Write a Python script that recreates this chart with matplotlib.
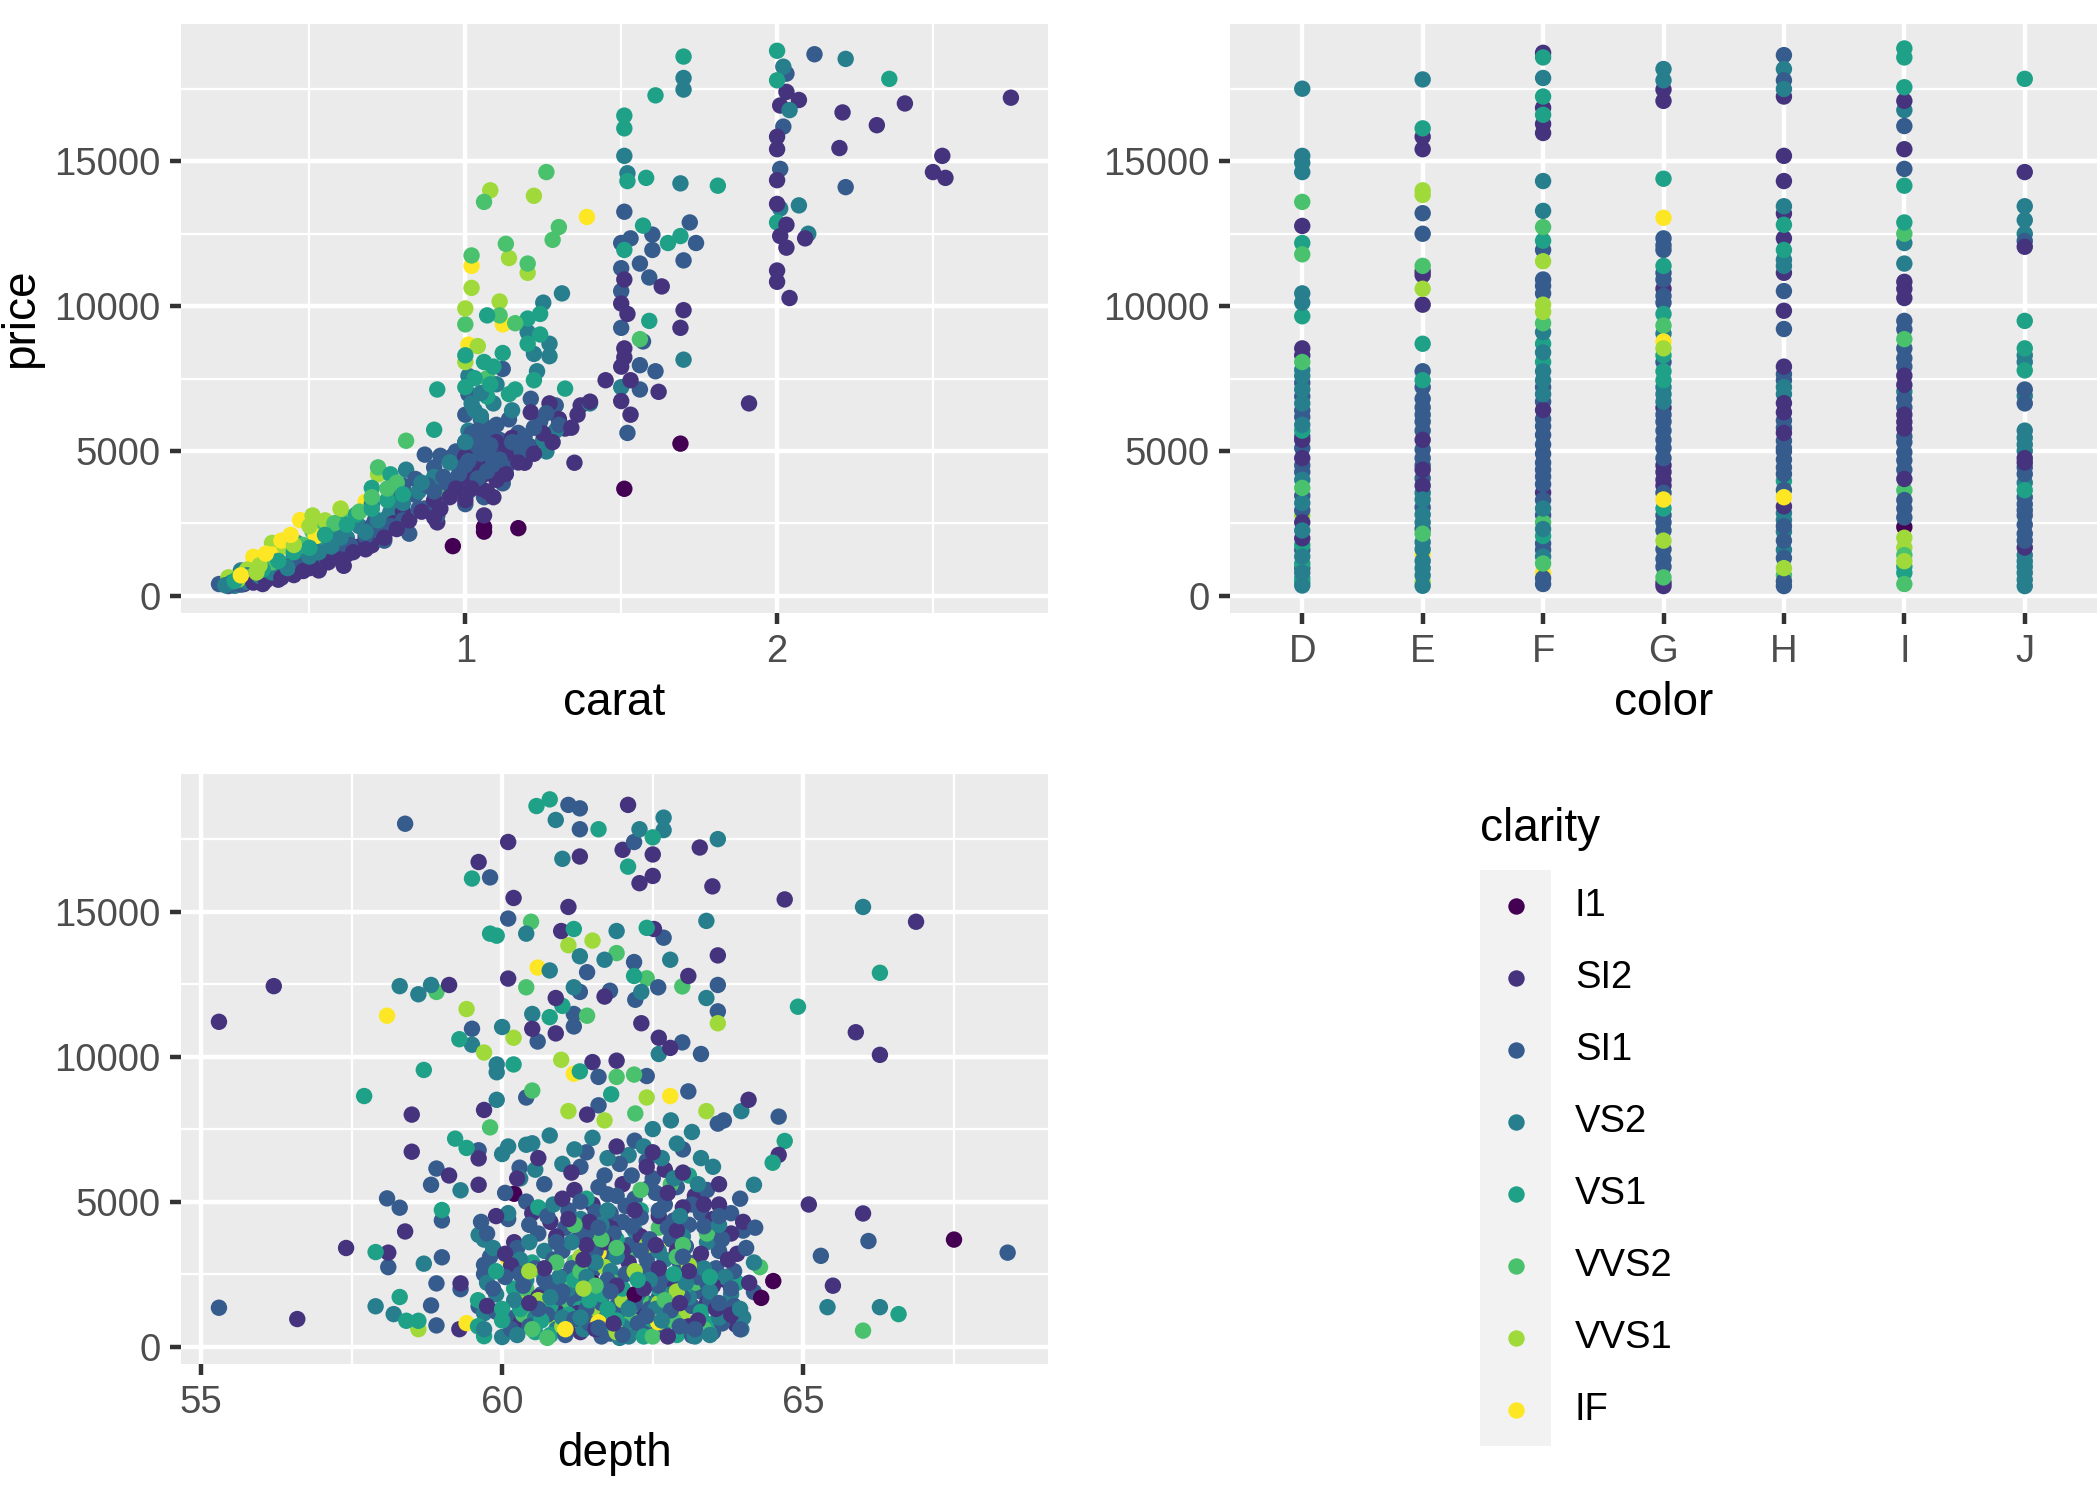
import matplotlib
matplotlib.use("Agg")
import matplotlib.pyplot as plt
from matplotlib.patches import Rectangle
from matplotlib.ticker import FixedLocator

plt.rcParams['font.family'] = ['Liberation Sans', 'DejaVu Sans']

# ---------------- categories / scales ----------------
clarity_levels = ["I1", "SI2", "SI1", "VS2", "VS1", "VVS2", "VVS1", "IF"]
clarity_colors = ["#440154", "#46337E", "#365C8D", "#277F8E",
                  "#1FA187", "#4AC16D", "#9FDA3A", "#FDE725"]
color_levels = ["D", "E", "F", "G", "H", "I", "J"]
price_ticks = [0, 5000, 10000, 15000]
price_minor = [2500, 7500, 12500, 17500]
carat_ticks = [1, 2]
carat_minor = [0.5, 1.5, 2.5]
depth_ticks = [55, 60, 65]
depth_minor = [57.5, 62.5, 67.5]

# ---------------- panel 1: carat vs price (carat, price) ----------------
carat_I1 = [(0.96, 1710), (1.06, 2370), (1.06, 2210), (1.17, 2330), (1.51, 3690), (1.69, 5250)]
carat_SI2 = [(2.03, 17400), (2.07, 17120), (2.01, 16930), (2.41, 17000), (2.75, 17200), (2.21, 16690),
             (2.32, 16250), (2.0, 15850), (2.0, 15420), (2.20, 15460), (2.53, 15190), (2.50, 14630),
             (2.54, 14430), (2.0, 14350), (2.0, 13530), (2.03, 12810), (2.01, 12420), (2.09, 12340),
             (2.03, 12020), (2.0, 11230), (2.0, 10840), (2.04, 10280), (1.91, 6640),
             (1.63, 10680), (1.51, 10920), (1.50, 10090), (1.52, 9730), (1.70, 9860), (1.69, 9250),
             (1.51, 8540), (1.51, 8230), (1.50, 7910), (1.45, 7440), (1.53, 7440), (1.62, 7040),
             (1.50, 6720), (1.53, 6250), (1.27, 6640), (1.37, 6570), (1.21, 6330), (1.36, 6250),
             (1.32, 5770), (1.21, 5140), (1.03, 4900), (1.19, 4590), (1.35, 4590), (1.05, 4590),
             (0.98, 4430), (1.01, 4270), (1.06, 4190), (1.0, 4030), (1.03, 3880), (1.0, 3560),
             (1.09, 3400), (1.06, 2770), (0.91, 2530), (0.70, 1740), (0.62, 1420), (0.54, 1190),
             (0.50, 1190), (0.50, 950), (0.29, 400), (0.35, 400), (0.40, 550), (0.45, 710),
             (0.53, 870), (0.61, 1030), (1.02, 4700), (1.04, 4400), (1.08, 4550), (1.12, 4800),
             (1.14, 5000), (1.0, 4800), (1.01, 3900), (1.05, 3700), (1.10, 5300), (1.15, 5450),
             (1.25, 5600), (1.30, 6100), (1.40, 6700), (0.90, 3300), (0.80, 2900), (0.72, 2300),
             (0.73, 2100), (0.77, 2500), (0.55, 1400), (0.31, 500), (0.33, 570), (0.38, 650),
             (0.42, 780), (0.47, 900), (0.52, 1100), (0.57, 1300), (0.66, 1700), (0.70, 1900),
             (0.71, 2050), (0.90, 2700),
             (0.32, 450), (0.36, 520), (0.41, 620), (0.44, 800), (0.48, 850), (0.51, 1000),
             (0.56, 1150), (0.60, 1250), (0.64, 1500), (0.68, 1600), (0.74, 2000), (0.78, 2300),
             (0.82, 2600), (0.86, 2900), (0.92, 3000), (0.95, 3400), (0.97, 3700), (1.0, 3300),
             (1.02, 3700), (1.07, 3600), (1.10, 4000), (1.13, 4200), (1.17, 4600), (1.22, 4900),
             (1.28, 5300), (1.34, 5800)]
carat_SI1 = [(2.12, 18700), (2.03, 18030), (2.02, 16200), (2.01, 14740), (2.22, 14110),
             (1.51, 13260), (1.72, 12890), (1.50, 12180), (1.53, 12340), (1.60, 12470), (1.74, 12180),
             (1.60, 11940), (1.70, 11580), (1.56, 11470), (1.50, 11310), (1.59, 10990), (1.50, 10520),
             (1.50, 9250), (1.57, 8780), (1.56, 7960), (1.61, 7750), (1.56, 7120), (1.52, 5620),
             (1.12, 7830), (1.01, 6960), (1.21, 6800), (1.29, 6570), (1.0, 6250), (1.05, 6090),
             (1.14, 6090), (1.24, 6010), (1.08, 5770), (1.17, 5620), (1.06, 5460), (1.11, 5380),
             (1.0, 5300), (0.97, 4980), (1.08, 4900), (1.16, 4750), (1.10, 4270), (1.12, 3880),
             (1.06, 3400), (1.0, 3160), (0.87, 4870), (0.92, 4830), (0.96, 4830), (0.90, 4430),
             (0.84, 4030), (0.95, 3640), (0.80, 3800), (0.78, 3400), (0.84, 3480), (0.87, 3010),
             (0.91, 2770), (0.79, 2770), (0.82, 2140), (0.74, 1900), (0.64, 2530), (0.56, 1500),
             (0.58, 1340), (0.21, 400), (0.24, 330), (1.02, 5000), (1.03, 5200), (1.06, 5100),
             (1.09, 4600), (1.13, 4400), (1.18, 5000), (1.20, 5200), (1.0, 4500), (1.04, 4050),
             (1.01, 3600), (0.93, 4100), (0.88, 3800), (0.71, 2600), (0.70, 2400), (0.60, 1800),
             (0.53, 1550), (0.50, 1450), (0.42, 1000), (0.36, 800), (0.30, 550), (0.27, 450),
             (1.02, 5600), (1.22, 5800), (1.26, 6300), (1.30, 5900),
             (0.28, 380), (0.32, 480), (0.35, 600), (0.40, 780), (0.44, 900), (0.47, 1100),
             (0.52, 1250), (0.55, 1350), (0.60, 1600), (0.63, 1750), (0.68, 2050), (0.72, 2250),
             (0.76, 2400), (0.80, 2600), (0.85, 3000), (0.90, 3600), (0.94, 3900), (0.98, 4200),
             (1.01, 4650), (1.05, 4900), (1.08, 5200), (1.15, 5300), (1.19, 5500), (1.07, 4300),
             (1.11, 4700), (1.04, 5700), (1.10, 5900)]
carat_VS2 = [(2.22, 18540), (2.02, 18270), (2.04, 16770), (2.01, 13370), (2.07, 13480), (2.10, 12500),
             (1.70, 17880), (1.70, 17480), (1.51, 15190), (1.52, 14590), (1.69, 14240), (1.70, 8150),
             (1.50, 7200), (1.31, 10440), (1.25, 10120), (1.20, 9100), (1.27, 8700), (1.22, 8350),
             (1.27, 8270), (1.23, 7750), (1.01, 7590), (1.02, 6640), (1.09, 6640), (1.40, 6640),
             (1.29, 5700), (1.01, 5700), (1.25, 5380), (1.26, 4980), (0.81, 4350), (0.70, 3160),
             (0.75, 2690), (0.70, 2140), (0.59, 2210), (0.51, 1740), (0.45, 1420), (0.37, 950),
             (0.28, 870), (0.26, 340), (0.42, 790), (1.05, 7000), (1.10, 7300), (1.15, 6400),
             (0.90, 4100), (0.85, 3600), (0.76, 2900), (0.66, 2400), (0.62, 2000), (0.55, 1650),
             (0.48, 1300), (0.40, 1050), (0.33, 600), (0.30, 700), (0.25, 450),
             (0.23, 360), (0.30, 480), (0.34, 680), (0.38, 800), (0.43, 950), (0.50, 1350),
             (0.53, 1500), (0.57, 1700), (0.60, 2000), (0.68, 2200), (0.72, 2600), (0.80, 3200),
             (0.86, 3900), (0.95, 4600), (1.0, 5300), (1.05, 6200), (1.03, 6400)]
carat_VS1 = [(2.0, 18820), (2.0, 17800), (2.36, 17850), (2.0, 12890), (1.70, 18620), (1.61, 17280),
             (1.51, 16580), (1.51, 16140), (1.52, 14320), (1.58, 14430), (1.81, 14160), (1.57, 12780),
             (1.69, 12420), (1.65, 12180), (1.51, 11940), (1.59, 9490), (1.07, 9680), (1.24, 9730),
             (1.20, 9570), (1.24, 9020), (1.20, 8700), (1.12, 8380), (1.06, 8070), (1.09, 7910),
             (1.03, 7510), (1.22, 7440), (1.32, 7150), (1.16, 7120), (1.14, 6960), (1.07, 6880),
             (0.91, 7120), (0.90, 5730), (0.76, 4190), (0.90, 3960), (0.70, 3720), (0.59, 2530),
             (0.46, 1820), (0.41, 1110), (0.33, 710), (0.29, 790), (0.36, 1110), (0.65, 2800),
             (0.60, 2300), (0.52, 1900), (0.38, 1000), (0.31, 620), (1.0, 8300),
             (0.26, 500), (0.35, 900), (0.40, 1200), (0.45, 1500), (0.50, 1650), (0.55, 2100),
             (0.62, 2450), (0.70, 3000), (0.75, 3300), (0.80, 3500), (1.0, 7200), (1.08, 7300)]
carat_VVS2 = [(1.26, 14630), (1.06, 13600), (1.30, 12730), (1.28, 12290), (1.02, 11750), (1.13, 12150),
              (1.20, 11470), (1.11, 9680), (1.0, 9370), (1.16, 9410), (1.07, 7510), (1.56, 8860),
              (0.81, 5350), (0.72, 4430), (0.91, 3560), (0.55, 2450), (0.51, 2210), (0.63, 2700),
              (0.45, 1600), (0.35, 1000), (0.27, 600), (0.78, 3900),
              (0.31, 650), (0.38, 1150), (0.48, 1750), (0.58, 2500), (0.66, 2900), (0.70, 3400),
              (0.75, 3700)]
carat_VVS1 = [(1.08, 14000), (1.22, 13810), (1.14, 11660), (1.20, 11150), (1.02, 10630), (1.11, 10160),
              (1.0, 9920), (1.04, 8620), (1.0, 8070), (0.72, 4190), (0.51, 2770), (0.38, 1820),
              (0.24, 630), (0.60, 3000), (0.42, 1700), (0.30, 900), (0.55, 2600),
              (0.27, 550), (0.34, 1050), (0.45, 1750), (0.50, 2400), (0.33, 800)]
carat_IF = [(1.39, 13080), (1.02, 11390), (1.12, 9370), (1.01, 8670), (0.76, 3400), (0.68, 3240),
            (0.60, 3010), (0.47, 2610), (0.39, 1580), (0.38, 1420), (0.32, 1340), (0.31, 950),
            (0.41, 1900), (0.35, 1250), (0.52, 2050), (0.28, 700), (0.36, 1450), (0.44, 2100)]

# ---------------- panel 2: color vs price (price, clarity) ----------------
color_D = [(17510, 'VS2'), (15190, 'VS2'), (14950, 'VS2'), (14630, 'VS2'), (13600, 'VVS2'), (12770, 'SI2'),
           (12180, 'VS1'), (11790, 'VVS2'), (10440, 'VS2'), (10120, 'VS2'), (9650, 'VS1'), (8540, 'SI2'),
           (8300, 'SI2'), (8070, 'VVS2'), (7800, 'VS2'), (7590, 'VS2'), (7350, 'SI1'), (7120, 'VS2'),
           (6880, 'SI1'), (6640, 'VS2'), (6400, 'SI1'), (6170, 'SI1'), (5900, 'VS2'), (5700, 'VS1'),
           (5500, 'SI1'), (5380, 'SI2'), (5100, 'SI1'), (4750, 'SI2'), (4500, 'SI1'), (4270, 'SI1'),
           (4000, 'VS2'), (3720, 'VVS2'), (3450, 'SI1'), (3200, 'VS2'), (2950, 'SI1'), (2770, 'VVS1'),
           (2530, 'SI2'), (2250, 'VS2'), (1980, 'SI2'), (1750, 'VS1'), (1580, 'SI1'), (1350, 'VS2'),
           (1110, 'VS1'), (950, 'SI1'), (790, 'VS2'), (600, 'VS1'), (470, 'VS1'), (350, 'VS2')]
color_E = [(17830, 'VS2'), (16140, 'VS1'), (15850, 'SI2'), (15420, 'SI2'), (14000, 'VVS1'), (13840, 'VVS1'),
           (13210, 'SI1'), (12500, 'SI1'), (11390, 'VVS2'), (11200, 'SI2'), (11070, 'SI2'), (10600, 'VVS1'),
           (10050, 'SI2'), (8700, 'VS1'), (7750, 'SI1'), (7440, 'VS1'), (7200, 'SI1'), (6800, 'SI1'),
           (6500, 'SI1'), (6250, 'SI1'), (6010, 'SI1'), (5700, 'SI1'), (5380, 'SI2'), (5050, 'SI1'),
           (4750, 'SI1'), (4500, 'SI1'), (4350, 'SI2'), (4050, 'SI1'), (3800, 'SI2'), (3550, 'VS2'),
           (3320, 'VS2'), (3050, 'SI1'), (2800, 'VS2'), (2530, 'VS2'), (2300, 'SI1'), (2140, 'VVS2'),
           (1850, 'VS2'), (1600, 'VS2'), (1420, 'IF'), (1200, 'VS2'), (950, 'VS2'), (700, 'VS2'),
           (470, 'VVS1'), (340, 'VS2')]
color_F = [(18750, 'SI2'), (18590, 'VS1'), (17880, 'VS2'), (17240, 'VS1'), (16850, 'SI2'), (16610, 'VS1'),
           (16290, 'SI2'), (15980, 'SI2'), (14320, 'VS2'), (13290, 'VS2'), (12730, 'VVS2'), (12260, 'VS1'),
           (11940, 'SI1'), (11550, 'VVS1'), (10920, 'SI1'), (10700, 'SI1'), (10440, 'SI1'), (10050, 'VVS1'),
           (9800, 'VVS1'), (9410, 'VVS2'), (9100, 'VS2'), (8700, 'VS1'), (8400, 'VS2'), (8070, 'VS1'),
           (7750, 'VS2'), (7440, 'VS2'), (7200, 'SI1'), (6960, 'VS2'), (6700, 'SI1'), (6410, 'SI2'),
           (6100, 'SI1'), (5850, 'SI1'), (5550, 'SI1'), (5220, 'SI1'), (4900, 'SI1'), (4590, 'SI1'),
           (4350, 'SI1'), (4110, 'SI1'), (3850, 'SI1'), (3560, 'SI2'), (3300, 'SI1'), (3010, 'VS2'),
           (2780, 'SI1'), (2530, 'VVS2'), (2300, 'VS2'), (2060, 'VS1'), (1800, 'SI1'), (1580, 'SI1'),
           (1350, 'VS2'), (1110, 'VVS2'), (790, 'IF'), (600, 'SI1'), (400, 'SI1')]
color_G = [(18190, 'VS2'), (17800, 'VS2'), (17480, 'SI2'), (17090, 'SI2'), (14400, 'VS1'), (13050, 'IF'),
           (12340, 'SI1'), (12100, 'SI1'), (11940, 'SI1'), (11390, 'VS1'), (11150, 'SI1'), (10920, 'SI1'),
           (10600, 'SI2'), (10350, 'SI1'), (10120, 'SI1'), (9730, 'VS1'), (9330, 'VVS2'), (9050, 'VS2'),
           (8780, 'IF'), (8540, 'VVS1'), (8300, 'VS1'), (8070, 'SI1'), (7750, 'VS1'), (7440, 'VS1'),
           (7200, 'VS2'), (6960, 'VS2'), (6700, 'VS2'), (6490, 'SI2'), (6250, 'SI1'), (6010, 'SI1'),
           (5700, 'SI1'), (5380, 'SI1'), (5100, 'SI1'), (4750, 'SI1'), (4500, 'SI2'), (4270, 'SI2'),
           (4000, 'SI2'), (3800, 'SI2'), (3550, 'SI1'), (3320, 'IF'), (3010, 'VS1'), (2780, 'SI1'),
           (2530, 'SI1'), (2250, 'SI1'), (1900, 'VVS1'), (1600, 'SI1'), (1270, 'SI1'), (1000, 'SI1'),
           (630, 'VVS2'), (450, 'SI2'), (330, 'SI2')]
color_H = [(18670, 'SI1'), (18190, 'VS2'), (17800, 'SI1'), (17500, 'VS2'), (17240, 'SI2'), (15190, 'SI2'),
           (14320, 'SI2'), (13450, 'VS2'), (13200, 'SI2'), (12810, 'VS1'), (12340, 'SI2'), (11940, 'VS1'),
           (11600, 'VS2'), (11390, 'VS2'), (11150, 'SI2'), (10520, 'SI1'), (9840, 'SI2'), (9210, 'SI1'),
           (7910, 'SI2'), (7650, 'SI1'), (7440, 'SI1'), (7200, 'VS2'), (6960, 'VS2'), (6650, 'SI2'),
           (6330, 'SI2'), (6050, 'SI1'), (5800, 'SI1'), (5620, 'SI2'), (5350, 'SI1'), (5100, 'SI1'),
           (4980, 'SI1'), (4700, 'SI1'), (4430, 'SI1'), (4200, 'SI1'), (3960, 'VS1'), (3650, 'SI1'),
           (3400, 'IF'), (3080, 'SI2'), (2850, 'VS2'), (2610, 'VS2'), (2400, 'SI1'), (2210, 'VS2'),
           (1900, 'SI1'), (1580, 'VS2'), (1300, 'SI1'), (950, 'VVS1'), (710, 'VVS2'), (500, 'SI1'),
           (330, 'SI1')]
color_I = [(18900, 'VS1'), (18590, 'VS1'), (17560, 'VS1'), (17090, 'SI2'), (16770, 'VS2'), (16220, 'SI1'),
           (15420, 'SI2'), (14740, 'SI1'), (14160, 'VS1'), (12890, 'VS1'), (12500, 'VVS2'), (12180, 'VS2'),
           (11470, 'VS2'), (10840, 'SI2'), (10600, 'SI2'), (10280, 'SI2'), (9490, 'SI1'), (9200, 'SI1'),
           (8860, 'VVS2'), (8540, 'SI1'), (8200, 'SI1'), (7910, 'SI1'), (7600, 'SI2'), (7280, 'SI2'),
           (7050, 'VS2'), (6800, 'SI1'), (6500, 'SI1'), (6250, 'SI2'), (6000, 'SI2'), (5770, 'SI2'),
           (5500, 'SI1'), (5300, 'SI1'), (4950, 'SI1'), (4670, 'SI1'), (4350, 'SI1'), (4030, 'SI2'),
           (3640, 'VVS2'), (3300, 'SI1'), (3010, 'SI1'), (2700, 'SI1'), (2370, 'I1'), (2000, 'VVS1'),
           (1660, 'VVS1'), (1400, 'VVS2'), (1190, 'VVS1'), (1000, 'VS1'), (790, 'VS1'), (400, 'VVS2')]
color_J = [(17850, 'VS1'), (14630, 'SI2'), (13450, 'VS2'), (12970, 'VS2'), (12500, 'VS2'), (12250, 'SI1'),
           (12050, 'SI2'), (9490, 'VS1'), (8540, 'VS1'), (8300, 'VS2'), (8070, 'VS2'), (7780, 'VS1'),
           (7120, 'SI1'), (6900, 'VS2'), (6640, 'SI1'), (5700, 'VS2'), (5450, 'VS2'), (5220, 'VS2'),
           (5000, 'VS2'), (4750, 'SI2'), (4600, 'SI2'), (4430, 'SI1'), (4200, 'SI1'), (3900, 'VS2'),
           (3640, 'VS1'), (3400, 'SI1'), (3160, 'SI1'), (2950, 'SI1'), (2770, 'SI1'), (2450, 'SI1'),
           (2140, 'SI1'), (1900, 'SI1'), (1660, 'SI2'), (1400, 'VS2'), (1190, 'VS2'), (1000, 'VS2'),
           (790, 'VS2'), (550, 'VS2'), (330, 'VS2')]

# ---------------- panel 3: depth vs price (depth, price) ----------------
depth_I1 = [(60.2, 5270), (64.5, 2260), (64.3, 1680), (67.5, 3690), (61.5, 2200), (62.2, 1800)]
depth_SI2 = [(62.09, 18680), (62.0, 17130), (62.5, 16970), (62.5, 16230), (62.28, 15980), (63.28, 17210),
             (63.49, 15870), (64.69, 15420), (66.87, 14650), (65.87, 10840), (66.27, 10060), (60.1, 17400),
             (59.61, 16710), (61.29, 16900), (60.19, 15470), (61.1, 15160), (60.98, 14330), (62.52, 14400),
             (63.58, 13490), (63.09, 12780), (56.21, 12430), (55.3, 11200), (59.12, 12470), (60.1, 12690),
             (60.89, 12020), (61.7, 12070), (62.31, 11150), (60.5, 10960), (60.89, 10800), (61.5, 9810),
             (61.9, 9860), (62.6, 10650), (62.79, 10300), (58.5, 8000), (58.5, 6720), (59.7, 8160),
             (61.41, 8000), (64.09, 8510), (64.59, 6610), (59.61, 6490), (59.12, 5900), (59.61, 5580),
             (58.39, 3970), (57.41, 3400), (58.11, 3240), (59.29, 600), (56.6, 950), (59.31, 2180),
             (65.09, 4900), (65.99, 4590), (65.49, 2100), (63.88, 760),
             (60.5, 4600), (60.8, 4300), (61.2, 5400), (61.5, 4900), (61.8, 4100), (62.0, 5600),
             (62.3, 3800), (62.6, 4500), (62.9, 3300), (63.2, 5200), (63.5, 4400), (63.8, 3900),
             (61.0, 2400), (61.6, 1800), (62.2, 1200), (62.8, 2100), (63.4, 1500), (60.3, 800),
             (61.3, 500), (62.5, 400), (63.1, 700), (63.7, 2300), (60.6, 6500), (61.9, 6900),
             (62.7, 6100), (60.2, 3600), (61.4, 3500), (63.0, 4800), (62.1, 2900), (63.6, 4900),
             (64.0, 4300), (60.9, 1200),
             (61.45, 4300), (62.2, 4700), (62.9, 4000), (63.3, 3200), (61.7, 3600), (60.9, 3800),
             (62.55, 3500), (63.9, 3200), (61.0, 5100), (62.0, 3300), (62.75, 5300), (63.5, 2100),
             (60.6, 1700), (61.25, 1150), (61.9, 2100), (62.6, 2700), (63.25, 900), (63.8, 1100),
             (60.15, 2800), (61.55, 600), (62.75, 350), (60.25, 5800), (61.15, 6000), (62.4, 6200),
             (63.0, 6000), (63.6, 5600), (64.1, 2200), (59.75, 1400), (60.05, 3200), (59.9, 4500),
             (60.7, 2700), (61.35, 3000), (62.35, 2000), (63.1, 2600), (63.55, 1300), (60.45, 1500),
             (61.85, 800), (62.95, 1500), (63.75, 3000), (61.1, 4400), (62.5, 6700), (63.35, 4900)]
depth_SI1 = [(61.1, 18680), (61.29, 18560), (61.29, 17840), (62.19, 17400), (58.39, 18030), (59.8, 16180),
             (60.1, 14760), (62.68, 14100), (62.19, 13260), (61.41, 12910), (61.29, 12230), (61.79, 12270),
             (62.21, 11960), (62.59, 12390), (63.58, 12470), (63.58, 11560), (61.19, 11470), (59.5, 10960),
             (60.59, 10520), (61.19, 11040), (61.6, 9300), (62.4, 9330), (62.99, 10490), (63.3, 10090),
             (60.4, 8590), (61.6, 8320), (63.09, 8800), (63.58, 7690), (63.68, 7800), (64.59, 7930),
             (59.61, 6770), (60.29, 6170), (58.91, 6140), (58.82, 5580), (58.09, 5110), (58.3, 4790),
             (58.11, 2740), (59.0, 4350), (59.0, 3080), (58.91, 2180), (58.82, 1420), (58.91, 730),
             (55.3, 1340), (59.31, 1980), (59.61, 1390), (59.7, 2820), (66.08, 3640), (68.39, 3240),
             (65.29, 3130), (64.18, 1880),
             (60.4, 5000), (60.7, 5600), (61.1, 4700), (61.3, 6200), (61.6, 5500), (61.8, 4600),
             (62.0, 4300), (62.2, 5100), (62.4, 6400), (62.5, 5800), (62.7, 4900), (62.9, 5500),
             (63.1, 4200), (63.3, 4600), (63.5, 3900), (63.8, 4600), (64.0, 4000), (60.6, 3900),
             (61.0, 3300), (61.4, 3900), (61.7, 3100), (62.1, 3500), (62.4, 3000), (62.8, 3700),
             (63.2, 2900), (63.6, 3300), (60.8, 2200), (61.2, 1600), (61.5, 2600), (61.9, 1400),
             (62.3, 2200), (62.6, 1700), (63.0, 2500), (63.3, 1900), (63.7, 1200), (60.5, 1500),
             (60.2, 1000), (61.1, 700), (61.8, 450), (62.6, 600), (63.5, 500), (62.9, 1100),
             (61.4, 6700), (62.2, 7100), (63.0, 6800), (61.7, 5900), (60.1, 4400), (59.8, 3100),
             (59.7, 2500),
             (61.3, 5000), (61.55, 4650), (61.75, 5250), (62.05, 4850), (62.3, 4450), (62.55, 5300),
             (62.85, 4350), (63.15, 4900), (63.4, 5400), (62.15, 5900), (62.45, 5500), (61.95, 6300),
             (61.25, 3700), (61.55, 3300), (61.85, 3900), (62.15, 4150), (62.45, 3700), (62.75, 4100),
             (63.05, 3450), (63.35, 4150), (63.65, 3700), (61.05, 4100), (60.75, 4500), (60.45, 4200),
             (60.25, 3400), (60.55, 2700), (60.85, 3000), (61.15, 2700), (61.45, 2200), (61.75, 2300),
             (62.05, 2500), (62.35, 2600), (62.65, 2400), (62.95, 2900), (63.25, 2400), (63.55, 2700),
             (63.85, 2600), (60.35, 2100), (60.65, 1800), (60.95, 1700), (61.35, 1900), (61.65, 1500),
             (62.05, 1100), (62.45, 1300), (62.85, 1500), (63.15, 1400), (63.45, 1600), (63.85, 1400),
             (60.45, 700), (60.75, 1100), (61.45, 800), (62.25, 800), (62.95, 700), (63.65, 800),
             (61.05, 400), (61.65, 350), (62.35, 450), (63.15, 380), (63.95, 600), (59.9, 1200),
             (59.75, 3900), (60.05, 5300), (64.05, 3400), (63.95, 5100), (64.2, 4100),
             (59.65, 4300), (59.85, 2000), (60.05, 2400), (60.15, 600),
             (60.3, 2500), (60.7, 2300), (61.0, 1900), (61.4, 1300), (61.8, 1900), (62.2, 1500),
             (62.6, 2100), (63.0, 1700), (63.4, 2200), (63.8, 2000), (60.6, 1300), (61.2, 950),
             (61.6, 650), (62.0, 400), (62.4, 1050), (62.8, 1250), (63.2, 600), (63.6, 1500),
             (60.9, 3600), (61.6, 4100), (62.3, 3300), (63.0, 3100), (63.6, 4500), (61.9, 5200),
             (62.6, 4700)]
depth_VS2 = [(60.89, 18160), (62.68, 18240), (62.68, 17810), (62.28, 17840), (63.58, 17500), (61.0, 16820),
             (65.99, 15160), (60.4, 14240), (61.9, 14330), (63.39, 14680), (61.7, 13340), (61.29, 13460),
             (62.79, 13340), (60.79, 12970), (58.3, 12430), (58.61, 12150), (58.82, 12470), (61.19, 12390),
             (62.31, 12230), (63.39, 12020), (60.0, 11020), (60.5, 11470), (59.5, 10410), (62.6, 10090),
             (59.91, 9730), (59.91, 9460), (59.91, 8510), (63.97, 8120), (64.18, 5580), (60.0, 6640),
             (60.1, 6900), (60.4, 6960), (60.79, 7280), (60.5, 7010), (59.31, 5390), (58.7, 2860),
             (57.9, 1390), (58.2, 1120), (59.7, 3690), (59.61, 3850), (59.7, 1150), (65.4, 1360),
             (66.27, 1360), (64.18, 2900), (63.97, 600),
             (60.3, 5800), (61.0, 6300), (61.5, 7200), (62.1, 6600), (62.5, 7500), (62.8, 7800),
             (63.3, 6500), (62.2, 4000), (61.3, 4400), (60.7, 3300), (62.7, 3000), (63.4, 3600),
             (61.1, 2000), (61.8, 2600), (62.4, 1500), (63.0, 1300), (63.8, 1800), (60.4, 2300),
             (60.9, 600), (61.6, 1000), (62.1, 350), (62.7, 800), (63.3, 1000), (64.0, 1000),
             (59.9, 1800), (60.0, 330),
             (60.55, 6100), (61.2, 6800), (61.75, 6500), (62.35, 6900), (62.9, 7000), (63.15, 7400),
             (62.65, 6500), (62.85, 5800), (63.5, 6200), (61.65, 4200), (62.6, 3300), (63.0, 3800),
             (63.6, 4200), (60.85, 4900), (61.15, 3600), (60.3, 3000), (60.95, 2400), (61.55, 2900),
             (62.25, 1800), (62.8, 1800), (63.35, 2700), (63.7, 2400), (60.55, 1000), (61.35, 600),
             (62.0, 700), (62.55, 1300), (63.1, 1700), (63.6, 1000), (63.95, 1300), (59.75, 2200),
             (60.2, 1600), (61.0, 1000), (61.95, 300), (63.2, 350), (59.85, 3400), (60.1, 4600),
             (59.7, 600),
             (60.45, 3600), (61.4, 2400), (61.9, 3100), (62.45, 2300), (63.05, 2200), (63.45, 1900),
             (60.8, 1700), (61.3, 1000), (62.1, 1300), (62.65, 900), (63.45, 400), (60.25, 400),
             (61.75, 4700), (62.95, 4500), (63.25, 5600)]
depth_VS1 = [(60.57, 18640), (60.79, 18870), (61.6, 17840), (62.5, 17560), (62.09, 16550), (59.5, 16140),
             (66.27, 12890), (64.91, 11720), (59.8, 14240), (59.91, 14170), (61.19, 14400), (62.4, 14440),
             (62.19, 12780), (61.0, 11750), (60.79, 11360), (59.29, 10600), (60.19, 9730), (61.29, 9490),
             (58.7, 9540), (57.71, 8640), (61.81, 8700), (64.69, 7090), (64.49, 6340), (59.22, 7170),
             (59.41, 6850), (59.0, 4710), (57.9, 3260), (58.3, 1710), (58.41, 890), (58.61, 890),
             (59.7, 360), (66.58, 1120),
             (60.6, 4800), (61.4, 5100), (62.3, 4700), (63.1, 5900), (61.9, 3700), (60.5, 2900),
             (62.0, 2000), (62.9, 1700), (61.3, 1300), (60.3, 1300), (61.7, 700), (62.4, 900),
             (63.5, 800), (63.9, 2200), (60.8, 400), (62.9, 400), (59.6, 700),
             (60.2, 2000), (60.8, 1400), (61.2, 2300), (61.65, 1800), (62.15, 1400), (62.7, 1200),
             (63.3, 1200), (60.55, 500), (61.1, 1100), (62.35, 350), (63.0, 2000), (61.9, 900),
             (62.6, 2000), (59.6, 1600), (60.0, 900), (59.9, 2600), (60.0, 1300),
             (60.65, 900), (61.45, 1600), (62.25, 2300), (62.85, 2500), (63.45, 2400), (61.75, 1300)]
depth_VVS2 = [(60.48, 14650), (61.9, 13570), (62.4, 12700), (62.99, 12420), (58.91, 12230), (60.4, 12390),
              (61.41, 11410), (61.9, 9300), (62.19, 9380), (60.5, 8830), (62.21, 8040), (59.8, 7560),
              (64.28, 2740), (65.99, 550),
              (60.89, 3690), (61.5, 3800), (62.1, 3200), (62.6, 4100), (61.0, 1500), (61.8, 1200),
              (62.5, 1100), (63.2, 2200), (60.4, 2000), (62.2, 600), (63.4, 3900), (61.2, 2900),
              (62.8, 5600),
              (60.35, 1100), (61.05, 2300), (61.5, 700), (61.85, 2200), (62.3, 1700), (62.85, 900),
              (63.35, 600), (60.65, 2600), (61.3, 2600), (62.9, 3100), (62.15, 900), (61.65, 3700),
              (60.75, 300), (62.5, 350), (61.2, 4200), (62.3, 5400),
              (60.9, 2900), (61.55, 2100), (62.7, 1600), (63.0, 3500), (60.5, 600), (61.9, 3400)]
depth_VVS1 = [(61.1, 13840), (61.5, 14000), (63.58, 11150), (59.41, 11640), (60.19, 10650), (59.7, 10140),
              (60.98, 9890), (61.1, 8120), (62.4, 8590), (63.39, 8120), (58.61, 600),
              (60.29, 1870), (61.71, 2740), (62.4, 3500), (60.9, 900), (62.0, 1600), (63.0, 1000),
              (61.3, 3100), (61.7, 7800),
              (61.0, 700), (61.5, 1300), (62.6, 1500), (60.6, 1600), (62.2, 2600), (61.9, 500),
              (63.1, 2800), (62.9, 1900), (61.35, 2000), (60.45, 2600)]
depth_IF = [(60.59, 13070), (58.09, 11410), (61.19, 9410), (62.79, 8640), (59.41, 810),
            (60.1, 3010), (61.6, 3240), (62.59, 3370), (61.29, 890), (61.6, 840), (62.59, 840),
            (61.05, 600)]

# ---------------- helpers ----------------
PANEL_BG = "#EBEBEB"
TICK_COL = "#333333"
LAB_COL = "#4D4D4D"
PT = 15.5  # marker area (pt^2)
TICK_FS = 9.2
TITLE_FS = 11


def interleave(groups):
    """groups: list of (clarity_index, [(x, y), ...]).
    Each group's points are spread evenly over the drawing order (like rows of a
    mixed data frame), so every clarity level appears both below and on top."""
    items = []
    for ci, g in groups:
        n = len(g)
        for i, (gx, gy) in enumerate(g):
            items.append(((i + 0.5) / n, ci, gx, gy))
    items.sort(key=lambda t: (t[0], t[1]))
    xs = [t[2] for t in items]
    ys = [t[3] for t in items]
    cs = [clarity_colors[t[1]] for t in items]
    return xs, ys, cs


def style(ax, xmajor, xminor, xlabels=None):
    ax.set_facecolor(PANEL_BG)
    for s in ax.spines.values():
        s.set_visible(False)
    ax.yaxis.set_major_locator(FixedLocator(price_ticks))
    ax.yaxis.set_minor_locator(FixedLocator(price_minor))
    ax.set_yticklabels([str(v) for v in price_ticks])
    ax.xaxis.set_major_locator(FixedLocator(xmajor))
    if xminor:
        ax.xaxis.set_minor_locator(FixedLocator(xminor))
    if xlabels is not None:
        ax.set_xticklabels(xlabels)
    ax.grid(which="major", color="white", linewidth=1.07)
    ax.grid(which="minor", color="white", linewidth=0.53)
    ax.set_axisbelow(True)
    ax.tick_params(which="major", length=2.75, width=1.07, color=TICK_COL,
                   labelcolor=LAB_COL, labelsize=TICK_FS, pad=2.2)
    ax.tick_params(which="minor", length=0)
    ax.set_ylim(-600, 19745)


W, H = 2100, 1500
fig = plt.figure(figsize=(7, 5), dpi=300)


def rect(x0, y0, x1, y1):
    return [x0 / W, 1 - y1 / H, (x1 - x0) / W, (y1 - y0) / H]


ax1 = fig.add_axes(rect(181, 24, 1048, 613))
ax2 = fig.add_axes(rect(1230, 24, 2097, 613))
ax3 = fig.add_axes(rect(181, 774, 1048, 1364))

# panel 1
g1 = [(0, carat_I1), (1, carat_SI2), (2, carat_SI1), (3, carat_VS2), (4, carat_VS1),
      (5, carat_VVS2), (6, carat_VVS1), (7, carat_IF)]
x, y, c = interleave(g1)
ax1.scatter(x, y, s=PT, c=c, linewidths=0, zorder=3)
style(ax1, carat_ticks, carat_minor)
ax1.set_xlim(0.088, 2.869)
ax1.set_xlabel("carat", fontsize=TITLE_FS, labelpad=2.75)
ax1.set_ylabel("price", fontsize=TITLE_FS, labelpad=2.75)

# panel 2
cols = [color_D, color_E, color_F, color_G, color_H, color_I, color_J]
groups2 = []
for ci, lvl in enumerate(clarity_levels):
    pts = []
    for k, col in enumerate(cols):
        for price, cl in col:
            if cl == lvl:
                pts.append((k + 1, price))
    groups2.append((ci, pts))
x, y, c = interleave(groups2)
ax2.scatter(x, y, s=PT, c=c, linewidths=0, zorder=3)
style(ax2, list(range(1, len(color_levels) + 1)), None, color_levels)
ax2.set_xlim(0.4, len(color_levels) + 0.6)
ax2.set_xlabel("color", fontsize=TITLE_FS, labelpad=2.75)

# panel 3
g3 = [(0, depth_I1), (1, depth_SI2), (2, depth_SI1), (3, depth_VS2), (4, depth_VS1),
      (5, depth_VVS2), (6, depth_VVS1), (7, depth_IF)]
x, y, c = interleave(g3)
ax3.scatter(x, y, s=PT, c=c, linewidths=0, zorder=3)
style(ax3, depth_ticks, depth_minor)
ax3.set_xlim(54.67, 69.06)
ax3.set_xlabel("depth", fontsize=TITLE_FS, labelpad=2.75)

# legend (layout in figure pixels)
lax = fig.add_axes([0, 0, 1, 1])
lax.set_xlim(0, W)
lax.set_ylim(H, 0)
lax.axis("off")
key_x0, key_w, key_top, key_h = 1480, 71, 870, 72
lax.add_patch(Rectangle((key_x0, key_top), key_w, key_h * len(clarity_levels),
                        facecolor="#F2F2F2", edgecolor="none"))
lax.text(key_x0, 829, "clarity", fontsize=TITLE_FS, va="center", ha="left", color="black")
for i, (lvl, col) in enumerate(zip(clarity_levels, clarity_colors)):
    cy = key_top + key_h * (i + 0.5)
    lax.scatter([key_x0 + key_w / 2], [cy], s=PT, c=[col], linewidths=0)
    lax.text(1575, cy, lvl, fontsize=TICK_FS, va="center", ha="left", color="black")

fig.savefig("out.png", dpi=300)
